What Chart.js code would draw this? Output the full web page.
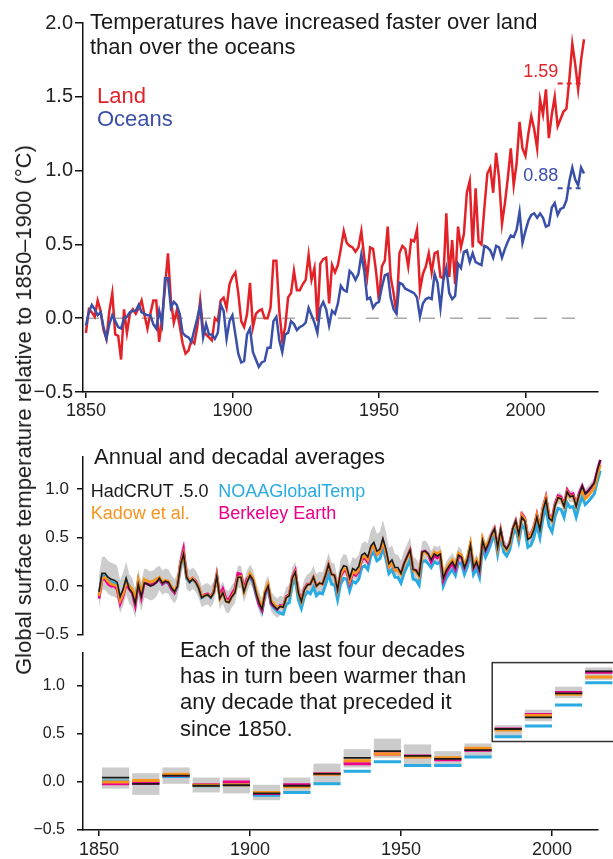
<!DOCTYPE html>
<html>
<head>
<meta charset="utf-8">
<script src="https://cdn.jsdelivr.net/npm/chart.js@4/dist/chart.umd.min.js"></script>
<style>
  body { margin: 0; background: #fff; }
  #wrap { position: relative; width: 613px; height: 859px; overflow: hidden;
          font-family: "Liberation Sans", Arial, Helvetica, sans-serif; color: #1a1a1a; }
  canvas { position: absolute; left: 0; }
  .t { position: absolute; white-space: nowrap; }
</style>
</head>
<body>
<div id="wrap">
  <canvas id="landOcean" width="613" height="425" style="top:0px"></canvas>
  <canvas id="annual" width="613" height="225" style="top:430px"></canvas>
  <canvas id="decadal" width="613" height="231" style="top:628px"></canvas>

  <div class="t" style="left:24px;top:410px;font-size:22px;line-height:22px;transform:translate(-50%,-50%) rotate(-90deg)">Global surface temperature relative to 1850–1900 (°C)</div>

  <div class="t" style="left:90px;top:9.2px;font-size:22px;line-height:25px">Temperatures have increased faster over land<br>than over the oceans</div>
  <div class="t" style="left:97px;top:84px;font-size:22px;line-height:23.4px"><span style="color:#e32228">Land</span><br><span style="color:#3a50a8">Oceans</span></div>

  <div class="t" style="left:94px;top:445.7px;font-size:22px;line-height:22px">Annual and decadal averages</div>
  <div class="t" style="left:90.7px;top:481.5px;font-size:18px;line-height:18px">HadCRUT .5.0</div>
  <div class="t" style="left:218.3px;top:481.5px;font-size:18px;line-height:18px;color:#29abe2">NOAAGlobalTemp</div>
  <div class="t" style="left:90.7px;top:504px;font-size:18px;line-height:18px;color:#f7941d">Kadow et al.</div>
  <div class="t" style="left:218.3px;top:504px;font-size:18px;line-height:18px;color:#ec008c">Berkeley Earth</div>

  <div class="t" style="left:180px;top:636.9px;font-size:22px;line-height:26.3px">Each of the last four decades<br>has in turn been warmer than<br>any decade that preceded it<br>since 1850.</div>
</div>

<script>
const FONT = '"Liberation Sans", Arial, Helvetica, sans-serif';
const LAND = "#e32228";
const OCEAN = "#3a50a8";
const HAD = "#1a1a1a";
const NOAA = "#29abe2";
const KADOW = "#f7941d";
const BERK = "#ec008c";
const BAND = "#cccccc";

const firstYear = 1850;
const xTickYears = [1850, 1900, 1950, 2000];
const topYTicks = [-0.5, 0, 0.5, 1, 1.5, 2];
const lowerYTicks = [-0.5, 0, 0.5, 1];

// top panel: land and ocean, 1850-2020
const land = [
  -0.10, 0.06, 0.04, 0.01, 0.12, 0.05, -0.08, -0.14, 0.05, 0.17,
  -0.11, -0.12, -0.28, 0.06, -0.10, 0.03, 0.06, 0.03, 0.07, 0.12,
  0.02, -0.07, 0.03, 0.12, 0.12, -0.16, 0.00, 0.21, 0.44, 0.12,
  -0.03, 0.05, -0.05, -0.17, -0.24, -0.22, -0.15, -0.17, -0.06, 0.12,
  -0.08, -0.11, -0.13, -0.15, 0.00, -0.02, 0.12, 0.14, 0.07, 0.23,
  0.28, 0.31, 0.17, -0.02, -0.06, 0.03, 0.24, -0.06, 0.03, 0.05,
  0.06, 0.00, 0.00, 0.07, 0.39, 0.39, 0.05, -0.15, -0.06, 0.14,
  0.17, 0.32, 0.19, 0.19, 0.23, 0.26, 0.43, 0.26, 0.34, -0.02,
  0.37, 0.40, 0.41, 0.10, 0.36, 0.31, 0.36, 0.47, 0.59, 0.51,
  0.49, 0.48, 0.45, 0.48, 0.59, 0.41, 0.28, 0.48, 0.47, 0.32,
  0.12, 0.35, 0.39, 0.62, 0.28, 0.17, 0.03, 0.44, 0.49, 0.47,
  0.35, 0.53, 0.52, 0.60, 0.19, 0.30, 0.35, 0.44, 0.31, 0.44,
  0.45, 0.28, 0.27, 0.71, 0.28, 0.53, 0.23, 0.62, 0.48, 0.57,
  0.85, 0.93, 0.48, 0.88, 0.52, 0.50, 0.75, 0.98, 1.02, 0.85,
  1.12, 0.95, 0.64, 0.78, 0.95, 1.15, 0.90, 1.05, 1.33, 1.15,
  1.10, 1.25, 1.37, 1.28, 1.15, 1.48, 1.38, 1.55, 1.22, 1.38,
  1.50, 1.30, 1.35, 1.40, 1.42, 1.62, 1.86, 1.72, 1.55, 1.75, 1.89
];
const ocean = [
  -0.05, 0.04, 0.09, 0.06, 0.02, 0.04, -0.06, -0.14, -0.04, 0.02,
  -0.02, -0.06, -0.07, 0.00, 0.01, 0.04, 0.05, 0.05, 0.09, 0.04,
  0.03, 0.02, 0.02, -0.04, -0.07, 0.05, -0.04, 0.27, 0.27, 0.07,
  0.11, 0.09, 0.03, -0.10, -0.12, -0.13, -0.16, -0.08, 0.00, 0.09,
  -0.13, -0.04, -0.11, -0.11, -0.14, -0.10, 0.09, 0.05, -0.14, -0.02,
  0.02, -0.11, -0.24, -0.30, -0.29, -0.11, -0.07, -0.23, -0.28, -0.33,
  -0.30, -0.29, -0.20, -0.20, -0.02, 0.01, -0.15, -0.23, -0.11, -0.10,
  -0.02, -0.04, -0.08, -0.06, -0.05, -0.03, 0.07, 0.02, -0.03, -0.10,
  0.07, 0.11, 0.06, -0.05, 0.05, 0.03, 0.10, 0.22, 0.19, 0.18,
  0.32, 0.30, 0.26, 0.30, 0.43, 0.32, 0.13, 0.14, 0.07, 0.10,
  0.11, 0.21, 0.29, 0.30, 0.14, 0.06, 0.03, 0.24, 0.23, 0.20,
  0.19, 0.18, 0.17, 0.14, 0.01, 0.10, 0.13, 0.14, 0.13, 0.30,
  0.24, 0.07, 0.26, 0.34, 0.17, 0.13, 0.15, 0.37, 0.34, 0.45,
  0.46, 0.38, 0.44, 0.38, 0.37, 0.36, 0.49, 0.48, 0.46, 0.41,
  0.49, 0.48, 0.41, 0.47, 0.52, 0.56, 0.55, 0.60, 0.72, 0.51,
  0.59, 0.66, 0.70, 0.71, 0.68, 0.71, 0.68, 0.62, 0.63, 0.75,
  0.78, 0.70, 0.74, 0.75, 0.80, 0.93, 1.02, 0.94, 0.90, 1.02, 0.98
];
const landMean = 1.59;
const oceanMean = 0.88;
const meanPeriod = [2011, 2020];

// middle panel: annual global means
const hadcrut = [
  -0.06, 0.13, 0.13, 0.09, 0.07, 0.06, 0.04, -0.11, -0.03, 0.08,
  -0.03, -0.07, -0.18, 0.02, -0.11, 0.03, 0.02, 0.00, 0.01, 0.04,
  0.08, 0.03, 0.05, 0.04, -0.02, -0.06, 0.00, 0.22, 0.33, 0.09,
  0.04, 0.07, 0.04, -0.02, -0.12, -0.10, -0.09, -0.12, -0.07, 0.10,
  -0.13, -0.07, -0.16, -0.17, -0.11, -0.07, 0.09, 0.09, -0.06, 0.04,
  0.11, 0.06, -0.07, -0.17, -0.24, -0.07, 0.00, -0.17, -0.21, -0.24,
  -0.21, -0.22, -0.12, -0.10, 0.08, 0.14, -0.07, -0.16, -0.04, 0.01,
  0.02, 0.09, 0.00, 0.03, 0.02, 0.11, 0.22, 0.12, 0.11, -0.04,
  0.15, 0.21, 0.20, 0.08, 0.18, 0.16, 0.20, 0.32, 0.34, 0.30,
  0.41, 0.45, 0.36, 0.38, 0.49, 0.38, 0.23, 0.27, 0.19, 0.19,
  0.13, 0.23, 0.30, 0.37, 0.17, 0.16, 0.11, 0.35, 0.36, 0.33,
  0.27, 0.33, 0.31, 0.33, 0.08, 0.16, 0.21, 0.25, 0.19, 0.32,
  0.30, 0.19, 0.27, 0.42, 0.19, 0.25, 0.16, 0.47, 0.37, 0.44,
  0.53, 0.59, 0.40, 0.58, 0.42, 0.38, 0.44, 0.59, 0.67, 0.53,
  0.71, 0.67, 0.48, 0.50, 0.58, 0.71, 0.58, 0.78, 0.89, 0.70,
  0.67, 0.83, 0.91, 0.90, 0.82, 0.97, 0.92, 0.93, 0.82, 0.94,
  1.03, 0.95, 0.98, 1.02, 1.06, 1.19, 1.30, 1.22, 1.14, 1.25, 1.28
];
const kadow = [
  -0.10, 0.08, 0.09, 0.05, 0.02, 0.01, 0.00, -0.15, -0.08, 0.04,
  0.00, -0.03, -0.15, 0.06, -0.08, 0.07, 0.05, 0.04, 0.05, 0.07,
  0.09, 0.04, 0.06, 0.05, -0.01, -0.05, 0.01, 0.23, 0.33, 0.10,
  0.05, 0.08, 0.04, -0.01, -0.11, -0.10, -0.09, -0.11, -0.07, 0.10,
  -0.13, -0.07, -0.15, -0.17, -0.11, -0.06, 0.09, 0.10, -0.06, 0.04,
  0.13, 0.08, -0.05, -0.15, -0.22, -0.05, 0.02, -0.15, -0.19, -0.22,
  -0.21, -0.22, -0.12, -0.10, 0.08, 0.14, -0.07, -0.16, -0.04, 0.01,
  0.02, 0.09, 0.00, 0.03, 0.02, 0.11, 0.22, 0.12, 0.11, -0.04,
  0.12, 0.18, 0.17, 0.05, 0.15, 0.13, 0.17, 0.29, 0.31, 0.27,
  0.38, 0.42, 0.33, 0.35, 0.46, 0.35, 0.20, 0.24, 0.16, 0.16,
  0.12, 0.22, 0.29, 0.36, 0.16, 0.15, 0.10, 0.34, 0.35, 0.32,
  0.29, 0.35, 0.33, 0.35, 0.10, 0.18, 0.23, 0.27, 0.21, 0.34,
  0.32, 0.21, 0.29, 0.44, 0.21, 0.27, 0.18, 0.49, 0.39, 0.46,
  0.52, 0.58, 0.39, 0.57, 0.41, 0.37, 0.43, 0.58, 0.66, 0.52,
  0.73, 0.69, 0.50, 0.52, 0.60, 0.73, 0.60, 0.80, 0.91, 0.72,
  0.67, 0.83, 0.91, 0.90, 0.82, 0.97, 0.92, 0.93, 0.82, 0.94,
  0.98, 0.90, 0.93, 0.97, 1.01, 1.14, 1.25, 1.17, 1.09, 1.20, 1.23
];
const berkeley = [
  -0.13, 0.07, 0.07, 0.02, 0.00, 0.00, -0.03, -0.18, -0.10, 0.02,
  -0.03, -0.07, -0.20, 0.03, -0.12, 0.04, 0.02, 0.01, 0.02, 0.04,
  0.08, 0.02, 0.05, 0.03, -0.03, -0.07, 0.01, 0.24, 0.38, 0.10,
  0.05, 0.08, 0.05, -0.01, -0.11, -0.09, -0.08, -0.11, -0.06, 0.11,
  -0.10, -0.03, -0.13, -0.14, -0.08, -0.03, 0.13, 0.12, -0.03, 0.07,
  0.11, 0.06, -0.07, -0.19, -0.25, -0.07, 0.00, -0.18, -0.21, -0.24,
  -0.20, -0.21, -0.11, -0.09, 0.09, 0.16, -0.06, -0.15, -0.03, 0.02,
  0.02, 0.09, 0.00, 0.03, 0.02, 0.11, 0.22, 0.12, 0.11, -0.04,
  0.10, 0.16, 0.15, 0.03, 0.13, 0.11, 0.15, 0.27, 0.29, 0.25,
  0.38, 0.42, 0.33, 0.35, 0.46, 0.35, 0.20, 0.24, 0.16, 0.16,
  0.13, 0.23, 0.30, 0.37, 0.17, 0.16, 0.11, 0.35, 0.36, 0.33,
  0.25, 0.31, 0.29, 0.31, 0.06, 0.14, 0.19, 0.23, 0.17, 0.30,
  0.30, 0.19, 0.27, 0.42, 0.19, 0.25, 0.16, 0.47, 0.37, 0.44,
  0.53, 0.59, 0.40, 0.58, 0.42, 0.38, 0.44, 0.59, 0.67, 0.53,
  0.74, 0.70, 0.51, 0.53, 0.61, 0.74, 0.61, 0.81, 0.92, 0.73,
  0.69, 0.85, 0.93, 0.92, 0.84, 0.99, 0.94, 0.95, 0.84, 0.96,
  1.03, 0.95, 0.98, 1.02, 1.06, 1.19, 1.30, 1.22, 1.14, 1.25, 1.28
];
const noaa = [
  -0.09, 0.10, 0.10, 0.06, 0.04, 0.03, 0.01, -0.14, -0.06, 0.05,
  0.00, -0.04, -0.15, 0.05, -0.08, 0.06, 0.05, 0.03, 0.04, 0.07,
  0.07, 0.02, 0.04, 0.03, -0.03, -0.07, -0.01, 0.21, 0.32, 0.08,
  0.04, 0.07, 0.04, -0.02, -0.12, -0.10, -0.09, -0.12, -0.07, 0.10,
  -0.11, -0.05, -0.14, -0.16, -0.10, -0.05, 0.10, 0.10, -0.04, 0.05,
  0.09, 0.04, -0.09, -0.19, -0.26, -0.09, -0.02, -0.19, -0.23, -0.26,
  -0.28, -0.29, -0.19, -0.17, 0.01, 0.07, -0.14, -0.23, -0.11, -0.06,
  -0.08, -0.01, -0.10, -0.07, -0.08, 0.01, 0.12, 0.02, 0.01, -0.14,
  0.02, 0.08, 0.07, -0.05, 0.05, 0.03, 0.07, 0.19, 0.21, 0.17,
  0.31, 0.35, 0.26, 0.28, 0.39, 0.28, 0.13, 0.17, 0.09, 0.09,
  0.03, 0.13, 0.20, 0.27, 0.07, 0.06, 0.01, 0.25, 0.26, 0.23,
  0.19, 0.25, 0.23, 0.25, 0.00, 0.08, 0.13, 0.17, 0.11, 0.24,
  0.23, 0.12, 0.20, 0.35, 0.12, 0.18, 0.09, 0.40, 0.30, 0.37,
  0.46, 0.52, 0.33, 0.51, 0.35, 0.31, 0.37, 0.52, 0.60, 0.46,
  0.63, 0.59, 0.40, 0.42, 0.50, 0.63, 0.50, 0.70, 0.81, 0.62,
  0.56, 0.72, 0.80, 0.79, 0.71, 0.86, 0.81, 0.82, 0.71, 0.83,
  0.92, 0.84, 0.87, 0.91, 0.95, 1.08, 1.19, 1.11, 1.03, 1.14, 1.17
];
// HadCRUT5 spread above / below the central estimate
const hadUncUp = [
  0.17, 0.17, 0.17, 0.17, 0.17, 0.17, 0.17, 0.17, 0.17, 0.17,
  0.15, 0.15, 0.15, 0.15, 0.15, 0.15, 0.15, 0.15, 0.15, 0.15,
  0.13, 0.13, 0.13, 0.13, 0.13, 0.13, 0.13, 0.13, 0.13, 0.13,
  0.12, 0.12, 0.12, 0.12, 0.12, 0.12, 0.12, 0.12, 0.12, 0.12,
  0.12, 0.12, 0.12, 0.12, 0.12, 0.12, 0.12, 0.12, 0.12, 0.12,
  0.11, 0.11, 0.11, 0.11, 0.11, 0.11, 0.11, 0.11, 0.11, 0.11,
  0.11, 0.11, 0.11, 0.11, 0.11, 0.11, 0.11, 0.11, 0.11, 0.11,
  0.12, 0.12, 0.12, 0.12, 0.12, 0.12, 0.12, 0.12, 0.12, 0.12,
  0.12, 0.12, 0.12, 0.12, 0.12, 0.12, 0.12, 0.12, 0.12, 0.14,
  0.16, 0.18, 0.18, 0.18, 0.19, 0.18, 0.16, 0.15, 0.14, 0.13,
  0.13, 0.13, 0.13, 0.13, 0.13, 0.12, 0.12, 0.11, 0.11, 0.10,
  0.09, 0.09, 0.09, 0.09, 0.09, 0.09, 0.09, 0.09, 0.09, 0.09,
  0.08, 0.08, 0.08, 0.08, 0.08, 0.08, 0.08, 0.08, 0.08, 0.08,
  0.06, 0.06, 0.06, 0.06, 0.06, 0.06, 0.06, 0.06, 0.06, 0.06,
  0.07, 0.07, 0.07, 0.07, 0.07, 0.07, 0.07, 0.07, 0.07, 0.07,
  0.06, 0.06, 0.06, 0.06, 0.06, 0.06, 0.06, 0.06, 0.06, 0.06,
  0.05, 0.05, 0.05, 0.05, 0.05, 0.05, 0.05, 0.05, 0.05, 0.05, 0.05
];
const hadUncDown = [
  0.17, 0.17, 0.17, 0.17, 0.17, 0.17, 0.17, 0.17, 0.17, 0.17,
  0.15, 0.15, 0.15, 0.15, 0.15, 0.15, 0.15, 0.15, 0.15, 0.15,
  0.12, 0.12, 0.12, 0.12, 0.12, 0.12, 0.12, 0.12, 0.12, 0.12,
  0.10, 0.10, 0.10, 0.10, 0.10, 0.10, 0.10, 0.10, 0.10, 0.10,
  0.11, 0.11, 0.11, 0.11, 0.11, 0.11, 0.11, 0.11, 0.11, 0.11,
  0.09, 0.09, 0.09, 0.09, 0.09, 0.09, 0.09, 0.09, 0.09, 0.09,
  0.09, 0.09, 0.09, 0.09, 0.09, 0.09, 0.09, 0.09, 0.09, 0.09,
  0.10, 0.10, 0.10, 0.10, 0.10, 0.10, 0.10, 0.10, 0.10, 0.10,
  0.10, 0.10, 0.10, 0.10, 0.10, 0.10, 0.10, 0.10, 0.10, 0.10,
  0.08, 0.08, 0.08, 0.08, 0.08, 0.08, 0.08, 0.08, 0.08, 0.08,
  0.10, 0.10, 0.10, 0.10, 0.10, 0.10, 0.10, 0.10, 0.10, 0.10,
  0.09, 0.09, 0.09, 0.09, 0.09, 0.09, 0.09, 0.09, 0.09, 0.09,
  0.07, 0.07, 0.07, 0.07, 0.07, 0.07, 0.07, 0.07, 0.07, 0.07,
  0.08, 0.08, 0.08, 0.08, 0.08, 0.08, 0.08, 0.08, 0.08, 0.08,
  0.05, 0.05, 0.05, 0.05, 0.05, 0.05, 0.05, 0.05, 0.05, 0.05,
  0.06, 0.06, 0.06, 0.06, 0.06, 0.06, 0.06, 0.06, 0.06, 0.06,
  0.07, 0.07, 0.07, 0.07, 0.07, 0.07, 0.07, 0.07, 0.07, 0.07, 0.07
];

// bottom panel: decadal means, 1851-1860 ... 2011-2020
const decadeStarts = [1851, 1861, 1871, 1881, 1891, 1901, 1911, 1921, 1931, 1941, 1951, 1961, 1971, 1981, 1991, 2001, 2011];
const decHadcrut  = [0.045, -0.02, 0.066, -0.04, -0.035, -0.12, -0.04, 0.083, 0.25, 0.32, 0.27, 0.24, 0.33, 0.55, 0.67, 0.92, 1.15];
const decKadow    = [0.00, 0.015, 0.08, -0.035, -0.03, -0.11, -0.05, 0.08, 0.22, 0.29, 0.26, 0.25, 0.35, 0.54, 0.69, 0.91, 1.09];
const decBerkeley = [-0.02, -0.015, 0.07, -0.03, 0.00, -0.12, -0.03, 0.085, 0.19, 0.29, 0.27, 0.23, 0.33, 0.55, 0.70, 0.93, 1.14];
const decNoaa     = [0.01, 0.00, 0.055, -0.04, -0.02, -0.14, -0.11, -0.02, 0.11, 0.21, 0.17, 0.17, 0.26, 0.47, 0.58, 0.80, 1.03];
const decLow      = [-0.07, -0.135, -0.02, -0.11, -0.12, -0.19, -0.12, -0.01, 0.15, 0.25, 0.18, 0.16, 0.26, 0.47, 0.63, 0.87, 1.06];
const decHigh     = [0.15, 0.09, 0.15, 0.045, 0.045, -0.03, 0.045, 0.19, 0.34, 0.45, 0.39, 0.32, 0.40, 0.59, 0.75, 0.99, 1.19];

const series = arr => arr.map((v, i) => ({ x: firstYear + i, y: v }));

const decadeSegments = vals => {
  const pts = [];
  vals.forEach((v, i) => {
    const d = decadeStarts[i];
    pts.push({ x: d, y: v }, { x: d + 9, y: v }, { x: d + 9, y: null });
  });
  return pts;
};

const fmtTick = v => (v < 0 ? "\u2212" : "") + Math.abs(v).toFixed(1);

function yAxis(min, max, ticks, size, tickLen, pad) {
  return {
    type: "linear", min, max,
    afterFit: s => { s.width = 83; },
    afterBuildTicks: s => { s.ticks = ticks.map(v => ({ value: v })); },
    border: { color: "#111", width: 1.5 },
    grid: { drawOnChartArea: false, drawTicks: true, tickLength: tickLen, color: "#111", lineWidth: 1.5 },
    ticks: { color: "#222", font: { family: FONT, size }, padding: pad, callback: fmtTick }
  };
}

function xAxis(min, max, show, height, size, pad) {
  return {
    type: "linear", min, max, display: show, offset: false,
    afterFit: s => { if (show) s.height = height; },
    afterBuildTicks: s => { s.ticks = xTickYears.map(v => ({ value: v })); },
    border: { color: "#111", width: 1.5 },
    grid: { offset: false, drawOnChartArea: false, drawTicks: true, tickLength: 6, color: "#111", lineWidth: 1.5 },
    ticks: { color: "#222", font: { family: FONT, size }, padding: pad, autoSkip: false, maxRotation: 0,
             callback: v => String(v) }
  };
}

const baseOpts = {
  responsive: false,
  animation: false,
  devicePixelRatio: 1,
  events: [],
  plugins: { legend: { display: false }, tooltip: { enabled: false } }
};

const lineDefaults = { pointRadius: 0, tension: 0, fill: false };

// dashed zero line behind the top panel series
const zeroLine = {
  id: "zeroLine",
  beforeDatasetsDraw(chart) {
    const { ctx, scales: { x, y } } = chart;
    const py = y.getPixelForValue(0);
    ctx.save();
    ctx.strokeStyle = "#a8a8a8";
    ctx.lineWidth = 1.5;
    ctx.setLineDash([13, 15]);
    ctx.beginPath();
    ctx.moveTo(x.getPixelForValue(1850), py);
    ctx.lineTo(x.getPixelForValue(2017), py);
    ctx.stroke();
    ctx.restore();
  }
};

// 2011-2020 mean values written next to their dashes
const meanLabels = {
  id: "meanLabels",
  afterDatasetsDraw(chart) {
    const { ctx, scales: { x, y } } = chart;
    ctx.save();
    ctx.font = "18px " + FONT;
    ctx.textAlign = "right";
    ctx.textBaseline = "alphabetic";
    [[landMean, LAND], [oceanMean, OCEAN]].forEach(([m, c]) => {
      ctx.fillStyle = c;
      ctx.fillText(m.toFixed(2), x.getPixelForValue(meanPeriod[0] + 0.2), y.getPixelForValue(m) - 7);
    });
    ctx.restore();
  }
};

new Chart(document.getElementById("landOcean"), {
  type: "line",
  data: {
    datasets: [
      { ...lineDefaults, label: "Land 2011–2020", data: meanPeriod.map(x => ({ x, y: landMean })),
        borderColor: LAND, borderWidth: 2, borderDash: [5, 4], order: 0 },
      { ...lineDefaults, label: "Oceans 2011–2020", data: meanPeriod.map(x => ({ x, y: oceanMean })),
        borderColor: OCEAN, borderWidth: 2, borderDash: [5, 4], order: 0 },
      { ...lineDefaults, label: "Oceans", data: series(ocean), borderColor: OCEAN, borderWidth: 2.5, order: 1 },
      { ...lineDefaults, label: "Land", data: series(land), borderColor: LAND, borderWidth: 2.5, order: 2 }
    ]
  },
  options: {
    ...baseOpts,
    layout: { padding: { left: 0, right: 15, top: 23, bottom: 0 } },
    scales: {
      x: xAxis(1849, 2024.77, true, 33, 18, 2),
      y: yAxis(-0.5, 2, topYTicks, 20, 8, 2)
    }
  },
  plugins: [zeroLine, meanLabels]
});

new Chart(document.getElementById("annual"), {
  type: "line",
  data: {
    datasets: [
      { ...lineDefaults, label: "HadCRUT5 low", data: hadcrut.map((v, i) => ({ x: firstYear + i, y: v - hadUncDown[i] })),
        borderWidth: 0, borderColor: "rgba(0,0,0,0)", order: 6, clip: false },
      { ...lineDefaults, label: "HadCRUT5 high", data: hadcrut.map((v, i) => ({ x: firstYear + i, y: v + hadUncUp[i] })),
        borderWidth: 0, borderColor: "rgba(0,0,0,0)", backgroundColor: BAND, fill: "-1", order: 5, clip: false },
      { ...lineDefaults, label: "NOAAGlobalTemp", data: series(noaa), borderColor: NOAA, borderWidth: 3, order: 4, clip: false },
      { ...lineDefaults, label: "Berkeley Earth", data: series(berkeley), borderColor: BERK, borderWidth: 2.8, order: 3, clip: false },
      { ...lineDefaults, label: "Kadow et al.", data: series(kadow), borderColor: KADOW, borderWidth: 2.8, order: 2, clip: false },
      { ...lineDefaults, label: "HadCRUT .5.0", data: series(hadcrut), borderColor: HAD, borderWidth: 1.6, order: 1, clip: false }
    ]
  },
  options: {
    ...baseOpts,
    layout: { padding: { left: 0, right: 15, top: 27, bottom: 20.5 } },
    scales: {
      x: xAxis(1844.70, 2015.23, false, 0, 18, 2),
      y: yAxis(-0.5, 1.33, lowerYTicks, 17, 6, 8)
    }
  }
});

// outline around the last four decades
const insetBox = {
  id: "insetBox",
  afterDatasetsDraw(chart) {
    const { ctx, scales: { x, y } } = chart;
    const l = x.getPixelForValue(1980.2);
    const t = y.getPixelForValue(1.24);
    const b = y.getPixelForValue(0.42);
    ctx.save();
    ctx.strokeStyle = "#333";
    ctx.lineWidth = 1.5;
    ctx.strokeRect(l, t, chart.width + 10 - l, b - t);
    ctx.restore();
  }
};

new Chart(document.getElementById("decadal"), {
  type: "line",
  data: {
    datasets: [
      { type: "bar", label: "HadCRUT5 range",
        data: decadeStarts.map((d, i) => ({ x: d + 4.5, y: [decLow[i], decHigh[i]] })),
        backgroundColor: BAND, borderWidth: 0, barPercentage: 0.9, categoryPercentage: 1, order: 6, clip: false },
      { ...lineDefaults, label: "NOAAGlobalTemp", data: decadeSegments(decNoaa), borderColor: NOAA, borderWidth: 3, order: 4, clip: false },
      { ...lineDefaults, label: "Berkeley Earth", data: decadeSegments(decBerkeley), borderColor: BERK, borderWidth: 3, order: 3, clip: false },
      { ...lineDefaults, label: "Kadow et al.", data: decadeSegments(decKadow), borderColor: KADOW, borderWidth: 3, order: 2, clip: false },
      { ...lineDefaults, label: "HadCRUT .5.0", data: decadeSegments(decHadcrut), borderColor: HAD, borderWidth: 1.8, order: 1, clip: false }
    ]
  },
  options: {
    ...baseOpts,
    layout: { padding: { left: 0, right: 15, top: 25, bottom: 0 } },
    scales: {
      x: xAxis(1844.70, 2015.23, true, 29, 18, 3),
      y: yAxis(-0.5, 1.34, lowerYTicks, 16, 6, 12)
    }
  },
  plugins: [insetBox]
});
</script>
</body>
</html>
